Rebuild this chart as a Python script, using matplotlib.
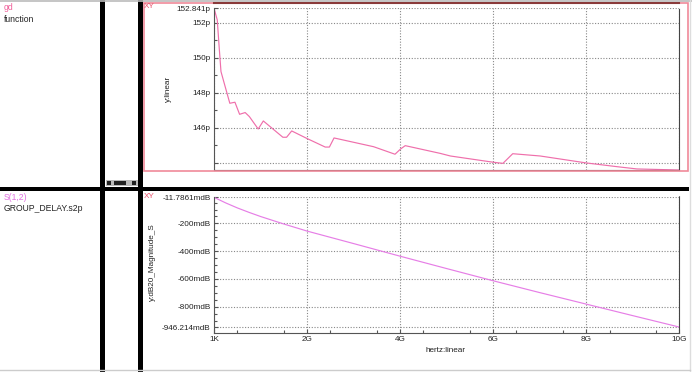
import matplotlib.pyplot as plt
from matplotlib.patches import Rectangle
from matplotlib.lines import Line2D

plt.rcParams['font.family'] = ['Liberation Sans', 'DejaVu Sans']

# gd (group delay), picoseconds
gd_freq_ghz = [0.0, 0.07, 0.11, 0.15, 0.24, 0.34, 0.45, 0.55, 0.67, 0.76, 0.95, 1.06,
               1.48, 1.56, 1.67, 1.99, 2.39, 2.48, 2.58, 3.43, 3.89, 4.01, 4.11, 4.86,
               5.08, 6.01, 6.21, 6.42, 7.01, 8.01, 8.66, 9.09, 10.0]
gd_ps = [152.841, 152.17, 150.65, 149.22, 148.36, 147.41, 147.47, 146.78, 146.88, 146.65,
         145.94, 146.40, 145.47, 145.47, 145.83, 145.41, 144.91, 144.91, 145.43, 144.93,
         144.50, 144.80, 144.99, 144.55, 144.40, 144.04, 143.98, 144.53, 144.40, 144.00,
         143.79, 143.66, 143.60]

# S(1,2) dB20 magnitude, mdB, bottom panel
s12_freq_ghz = [0.0, 0.25, 0.5, 0.75, 1.0, 1.5, 2.0, 3.0, 4.0, 5.0, 6.0, 7.0, 8.0, 9.0, 10.0]
s12_mdb = [-11.7861, -52, -88, -120, -150, -204, -255, -345, -436, -525, -613, -698,
           -781, -864, -946.214]

x_ticks = [0, 2, 4, 6, 8, 10]
x_labels = ['1K', '2G', '4G', '6G', '8G', '10G']
gd_ticks = [144, 146, 148, 150, 152, 152.841]
gd_labels = ['', '146p', '148p', '150p', '152p', '152.841p']
s12_ticks = [-946.214, -800, -600, -400, -200, -11.7861]
s12_labels = ['-946.214mdB', '-800mdB', '-600mdB', '-400mdB', '-200mdB', '-11.7861mdB']

FS = 5.9
W, H = 692, 372
fig = plt.figure(figsize=(W / 100, H / 100), dpi=100)
fig.patch.set_facecolor('white')


def box(x0, y0, x1, y1):
    return [x0 / W, 1 - y1 / H, (x1 - x0) / W, (y1 - y0) / H]


def fx(x):
    return x / W


def fy(y):
    return 1 - y / H


def style_axes(ax, xt, yt, ylabels, show_x):
    ax.set_xlim(0, 10)
    ax.set_xticks(xt)
    ax.set_xticks([v + 0.5 for v in range(10)], minor=True)
    ax.set_yticks(yt)
    ax.set_yticklabels(ylabels)
    ax.tick_params(axis='both', which='both', direction='in', colors='#555555',
                   labelcolor='#222222', labelsize=FS, pad=2.5)
    ax.tick_params(which='major', length=3, width=0.8)
    ax.tick_params(which='minor', length=2, width=0.8)
    ax.grid(True, which='major', linestyle=(0, (1, 1.5)), color='#888888', linewidth=0.8)
    ax.spines['top'].set_visible(False)
    ax.spines['right'].set_linestyle((0, (1, 1)))
    ax.spines['right'].set_color('#444444')
    ax.spines['left'].set_color('#555555')
    if show_x:
        ax.set_xticklabels(x_labels)
        ax.spines['bottom'].set_color('#555555')
    else:
        ax.set_xticklabels([])
        ax.tick_params(axis='x', which='both', length=0)
        ax.spines['bottom'].set_linestyle((0, (1, 1)))
        ax.spines['bottom'].set_color('#444444')


# top panel
ax1 = fig.add_axes(box(214, 8, 679.3, 170))
ax1.plot(gd_freq_ghz, gd_ps, color='#ef6fab', linewidth=0.85)
ax1.set_ylim(143.6, 152.85)
style_axes(ax1, x_ticks, gd_ticks, gd_labels, False)
ax1.set_yticks([145, 147, 149, 151], minor=True)
fig.text(fx(168), fy(89), 'y:linear', rotation=90, ha='center', va='center',
         fontsize=FS, color='#222222')

# bottom panel
ax2 = fig.add_axes(box(214, 197.3, 679.3, 333))
ax2.plot(s12_freq_ghz, s12_mdb, color='#e67ee6', linewidth=0.85)
ax2.set_ylim(-989, -11.7861)
style_axes(ax2, x_ticks, s12_ticks, s12_labels, True)
ax2.set_yticks([-900, -850, -750, -700, -650, -550, -500, -450, -350, -300,
                -250, -150, -100, -50], minor=True)
ax2.spines['right'].set_bounds(-989, -3)
ax2.set_ylim(-989, -11.7861)
fig.text(fx(152), fy(262), 'y:dB20_Magnitude_S', rotation=90, ha='center',
         va='center', fontsize=FS, color='#222222')
fig.text(fx(445), fy(351), 'hertz:linear', ha='center', va='center',
         fontsize=FS, color='#222222')

# window chrome: selection frame, dividers, labels
fig.add_artist(Rectangle((fx(143.5), fy(171)), (688 - 143.5) / W, (171 - 3) / H,
                         transform=fig.transFigure, fill=False,
                         edgecolor='#f08a9a', linewidth=1.2))
fig.add_artist(Line2D([fx(214), fx(679)], [fy(3), fy(3)], transform=fig.transFigure,
                      color='#8a3a3a', linewidth=1.5))
fig.add_artist(Rectangle((0, fy(191)), fx(689), 4 / H, transform=fig.transFigure,
                         facecolor='black', edgecolor='none'))
for x0, x1 in [(100, 105), (138, 143)]:
    fig.add_artist(Rectangle((fx(x0), 0), (x1 - x0) / W, 1, transform=fig.transFigure,
                             facecolor='black', edgecolor='none'))
fig.add_artist(Line2D([0, 1], [fy(0.5), fy(0.5)], transform=fig.transFigure,
                      color='#bbbbbb', linewidth=1.2))
fig.add_artist(Line2D([fx(690), fx(690)], [0, 1], transform=fig.transFigure,
                      color='#dddddd', linewidth=1.0))
fig.add_artist(Line2D([0, fx(690)], [fy(370), fy(370)], transform=fig.transFigure,
                      color='#cccccc', linewidth=1.0))

# little scroll widget
fig.add_artist(Rectangle((fx(106), fy(186)), 32 / W, 6 / H, transform=fig.transFigure,
                         facecolor='#bbbbbb', edgecolor='none'))
for x0, x1 in [(107, 111), (114, 126), (132, 136)]:
    fig.add_artist(Rectangle((fx(x0), fy(185)), (x1 - x0) / W, 4 / H,
                             transform=fig.transFigure, facecolor='#222222',
                             edgecolor='none'))

fig.text(fx(143.5), fy(6.5), 'XY', ha='left', va='center', fontsize=FS, color='#e8506a')
fig.text(fx(143.5), fy(196), 'XY', ha='left', va='center', fontsize=FS, color='#e8506a')
fig.text(fx(4), fy(8), 'gd', ha='left', va='center', fontsize=FS + 0.3, color='#f0609a')
fig.text(fx(4), fy(19), 'function', ha='left', va='center', fontsize=FS + 0.3,
         color='#222222')
fig.text(fx(4), fy(197), 'S(1,2)', ha='left', va='center', fontsize=FS + 0.3,
         color='#e070e0')
fig.text(fx(4), fy(209), 'GROUP_DELAY.s2p', ha='left', va='center', fontsize=FS + 0.3,
         color='#222222')

fig.savefig('out.png', dpi=100)
